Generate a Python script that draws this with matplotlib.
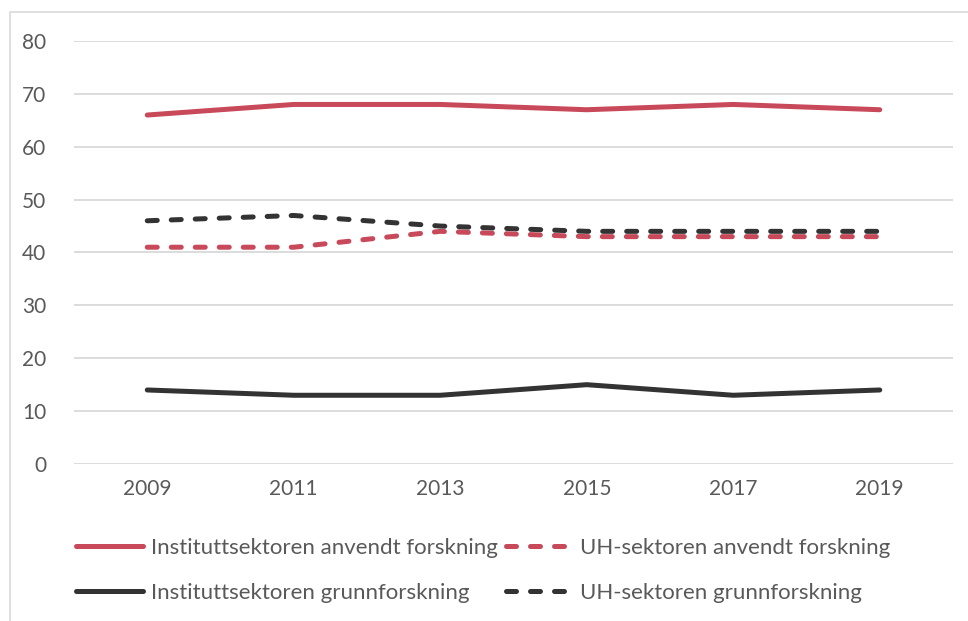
import matplotlib
matplotlib.use("Agg")
import matplotlib.pyplot as plt
from matplotlib.patches import Rectangle

years = ["2009", "2011", "2013", "2015", "2017", "2019"]
inst_anvendt = [66, 68, 68, 67, 68, 67]
uh_anvendt = [41, 41, 44, 43, 43, 43]
inst_grunn = [14, 13, 13, 15, 13, 14]
uh_grunn = [46, 47, 45, 44, 44, 44]
yticks = [0, 10, 20, 30, 40, 50, 60, 70, 80]

RED = "#C8495A"
DARK = "#333333"
TXT = "#595959"

plt.rcParams['font.family'] = ['Lato', 'DejaVu Sans']

fig = plt.figure(figsize=(9.68, 6.21), dpi=100)
W, H = 968, 621
ax = fig.add_axes([74 / W, 1 - 464 / H, (953 - 74) / W, (464 - 41) / H])

# outer chart frame (only left/top visible)
fig.patches.append(Rectangle((10 / W, -0.1), 1.2, (1 - 12 / H) + 0.1, transform=fig.transFigure,
                             fill=False, edgecolor="#D9D9D9", linewidth=1.2))

x = list(range(len(years)))
lw = 3.6
l1, = ax.plot(x, inst_anvendt, color=RED, lw=lw, solid_capstyle="round", solid_joinstyle="round",
              label="Instituttsektoren anvendt forskning")
l2, = ax.plot(x, uh_anvendt, color=RED, lw=lw, dash_capstyle="round", dash_joinstyle="round",
              dashes=(2.0, 2.8), label="UH-sektoren anvendt forskning")
l3, = ax.plot(x, inst_grunn, color=DARK, lw=lw, solid_capstyle="round", solid_joinstyle="round",
              label="Instituttsektoren grunnforskning")
l4, = ax.plot(x, uh_grunn, color=DARK, lw=lw, dash_capstyle="round", dash_joinstyle="round",
              dashes=(2.0, 2.8), label="UH-sektoren grunnforskning")

ax.set_xlim(-0.5, len(years) - 0.5)
ax.set_ylim(0, 80)
ax.set_yticks(yticks)
ax.set_xticks(x)
ax.set_xticklabels(years)
ax.grid(axis="y", color="#D9D9D9", linewidth=1.3)
ax.set_axisbelow(True)
for s in ax.spines.values():
    s.set_visible(False)
ax.tick_params(length=0, labelsize=15, colors=TXT, pad=11)
ax.tick_params(axis="y", pad=20)

FS = 16


def add_entry(handle, px, py, hlen, tpad):
    lg = fig.legend(handles=[handle], loc="center left",
                    bbox_to_anchor=(px / W, 1 - py / H), frameon=False,
                    fontsize=FS, handlelength=hlen, handletextpad=tpad,
                    borderaxespad=0, borderpad=0)
    for t in lg.get_texts():
        t.set_color(TXT)
    return lg


add_entry(l1, 76, 548, 3.0, 0.36)
add_entry(l3, 76, 593, 3.0, 0.36)
add_entry(l2, 506, 548, 2.6, 0.72)
add_entry(l4, 506, 593, 2.6, 0.72)

fig.savefig("out.png", dpi=100, facecolor="white")
